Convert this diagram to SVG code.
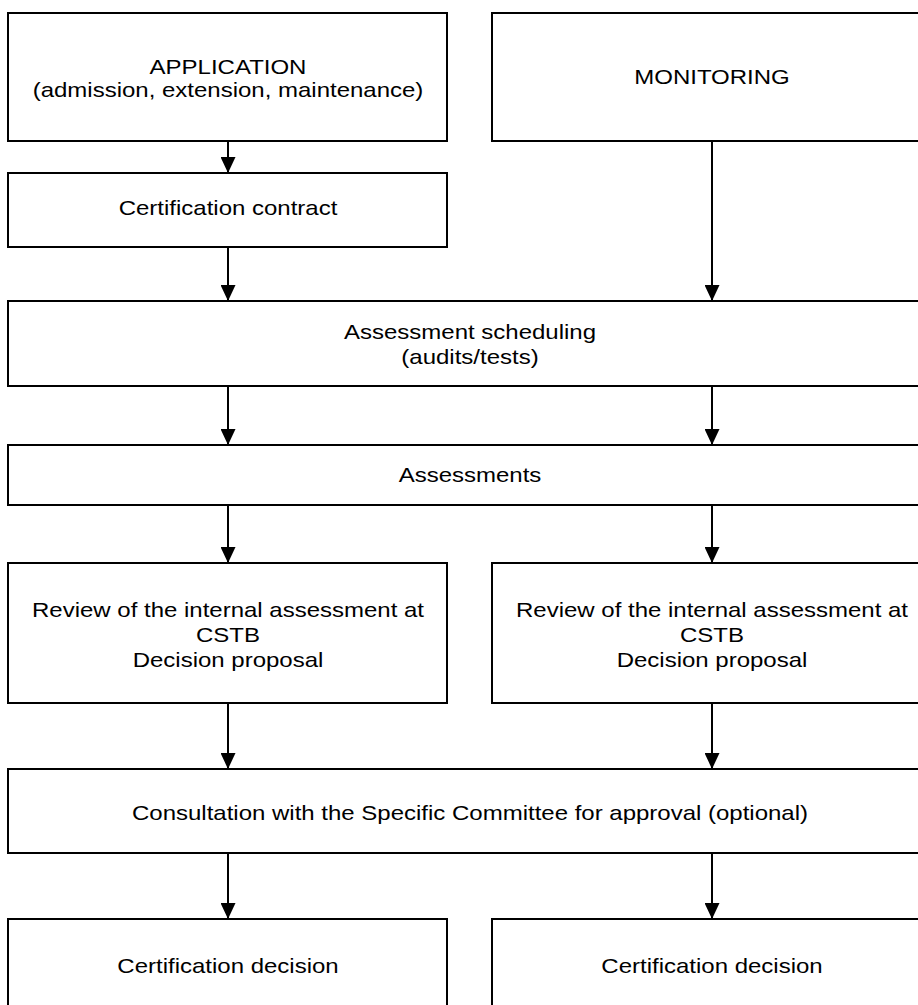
<svg xmlns="http://www.w3.org/2000/svg" width="918" height="1005" viewBox="0 0 918 1005">
<style>
.box{fill:#fff;stroke:#000;stroke-width:2}
.t{font-family:"Liberation Sans",Arial,sans-serif;font-size:20px;fill:#000;text-anchor:middle}
.c{stroke:#000;stroke-width:2;fill:none;marker-end:url(#ah)}
</style>
<defs>
<marker id="ah" markerUnits="userSpaceOnUse" markerWidth="16" markerHeight="15" refX="16" refY="7.5" orient="auto" viewBox="0 0 16 15">
<path d="M0,0 L16,7.5 L0,15 Z" fill="#000"/>
</marker>
</defs>
<rect width="918" height="1005" fill="#fff"/>
<g id="connectors">
<line class="c" x1="228" y1="141" x2="228" y2="173"/>
<line class="c" x1="228" y1="247" x2="228" y2="301"/>
<line class="c" x1="712" y1="141" x2="712" y2="301"/>
<line class="c" x1="228" y1="386" x2="228" y2="445"/>
<line class="c" x1="712" y1="386" x2="712" y2="445"/>
<line class="c" x1="228" y1="505" x2="228" y2="563"/>
<line class="c" x1="712" y1="505" x2="712" y2="563"/>
<line class="c" x1="228" y1="703" x2="228" y2="769"/>
<line class="c" x1="712" y1="703" x2="712" y2="769"/>
<line class="c" x1="228" y1="853" x2="228" y2="919"/>
<line class="c" x1="712" y1="853" x2="712" y2="919"/>
</g>
<g id="application"><rect class="box" x="8" y="13" width="439" height="128"/><text class="t" transform="translate(228,74) scale(1.2,1)">APPLICATION</text><text class="t" transform="translate(228,97) scale(1.2,1)">(admission, extension, maintenance)</text></g>
<g id="monitoring"><rect class="box" x="492" y="13" width="440" height="128"/><text class="t" transform="translate(712,84) scale(1.2,1)">MONITORING</text></g>
<g id="contract"><rect class="box" x="8" y="173" width="439" height="74"/><text class="t" transform="translate(228,215) scale(1.2,1)">Certification contract</text></g>
<g id="scheduling"><rect class="box" x="8" y="301" width="924" height="85"/><text class="t" transform="translate(470,339) scale(1.2,1)">Assessment scheduling</text><text class="t" transform="translate(470,364) scale(1.2,1)">(audits/tests)</text></g>
<g id="assessments"><rect class="box" x="8" y="445" width="924" height="60"/><text class="t" transform="translate(470,482) scale(1.2,1)">Assessments</text></g>
<g id="review-left"><rect class="box" x="8" y="563" width="439" height="140"/><text class="t" transform="translate(228,617) scale(1.2,1)">Review of the internal assessment at</text><text class="t" transform="translate(228,642) scale(1.2,1)">CSTB</text><text class="t" transform="translate(228,667) scale(1.2,1)">Decision proposal</text></g>
<g id="review-right"><rect class="box" x="492" y="563" width="440" height="140"/><text class="t" transform="translate(712,617) scale(1.2,1)">Review of the internal assessment at</text><text class="t" transform="translate(712,642) scale(1.2,1)">CSTB</text><text class="t" transform="translate(712,667) scale(1.2,1)">Decision proposal</text></g>
<g id="consultation"><rect class="box" x="8" y="769" width="924" height="84"/><text class="t" transform="translate(470,820) scale(1.2,1)">Consultation with the Specific Committee for approval (optional)</text></g>
<g id="decision-left"><rect class="box" x="8" y="919" width="439" height="110"/><text class="t" transform="translate(228,973) scale(1.2,1)">Certification decision</text></g>
<g id="decision-right"><rect class="box" x="492" y="919" width="440" height="110"/><text class="t" transform="translate(712,973) scale(1.2,1)">Certification decision</text></g>
</svg>
